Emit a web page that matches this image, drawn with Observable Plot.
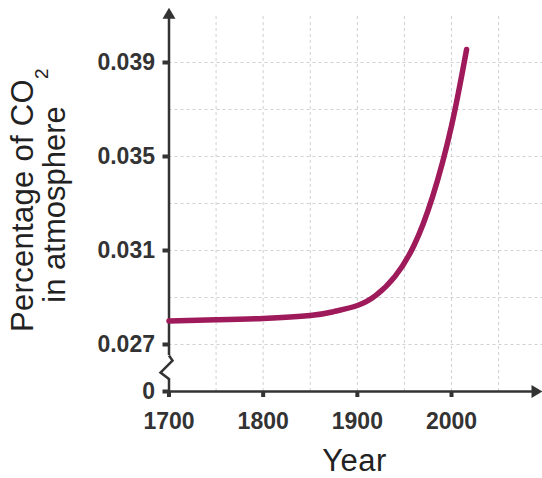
<!DOCTYPE html>
<html>
<head>
<meta charset="utf-8">
<script src="https://cdn.jsdelivr.net/npm/d3@7"></script>
<script src="https://cdn.jsdelivr.net/npm/@observablehq/plot@0.6"></script>
<style>
  body { margin: 0; background: #fff; }
  #chart svg { display: block; }
</style>
</head>
<body>
<div id="chart"></div>
<script>
// ---- data ----
const years = [1700, 1750, 1800, 1850, 1875, 1900, 1920, 1940, 1960, 1980, 2000, 2016];
const co2   = [0.02800, 0.02805, 0.02811, 0.02823, 0.02840, 0.02866, 0.02910, 0.02990, 0.03120, 0.03330, 0.03630, 0.03955];

const xTicks = [1700, 1800, 1900, 2000];
const gridYears = [1750, 1800, 1850, 1900, 1950, 2000, 2050];
const yTicks = [0.025, 0.027, 0.031, 0.035, 0.039];
const yTickLabels = ["0", "0.027", "0.031", "0.035", "0.039"];
const gridValues = [0.027, 0.029, 0.031, 0.033, 0.035, 0.037, 0.039];

const xLabel = "Year";
const yLabelMain = "Percentage of CO";
const yLabelSub = "2";
const yLabelLine2 = "in atmosphere";

// ---- scales / axis break ----
const xMin = 1700, xMax = 2086;
const yMin = 0.025, yMax = 0.0409, gridTop = 0.041;
const breakLow = 0.02555, breakHigh = 0.02653, breakMid = 0.02602;

const data = years.map((year, i) => ({year, value: co2[i]}));

const ink = "#333333";
const gridColor = "#cdd0d4";

const zigzag = {
  draw(ctx) {
    ctx.moveTo(0, -12);
    ctx.lineTo(3.5, -7);
    ctx.lineTo(-8.5, 5);
    ctx.lineTo(0, 11.5);
  }
};
const arrowHead = {
  draw(ctx) {
    ctx.moveTo(0, -10);
    ctx.lineTo(6.5, 1);
    ctx.lineTo(-6.5, 1);
    ctx.closePath();
  }
};

const chart = Plot.plot({
  width: 542,
  height: 478,
  marginLeft: 168.5,
  marginRight: 10,
  marginTop: 17.35,
  marginBottom: 87,
  style: {fontFamily: "'Liberation Sans', Arial, sans-serif", background: "#fff"},
  x: {domain: [xMin, xMax], axis: null},
  y: {domain: [yMin, yMax], axis: null},
  marks: [
    // grid
    Plot.ruleX(gridYears, {y1: yMin, y2: gridTop, stroke: gridColor, strokeWidth: 1, strokeDasharray: "3,3"}),
    Plot.ruleY(gridValues, {x1: xMin, x2: xMax, insetRight: -10, stroke: gridColor, strokeWidth: 1, strokeDasharray: "3,3"}),
    // axes
    Plot.ruleY([yMin], {x1: xMin, x2: xMax, stroke: ink, strokeWidth: 2.5}),
    Plot.ruleX([xMin], {y1: breakHigh, y2: yMax, stroke: ink, strokeWidth: 2.5}),
    Plot.ruleX([xMin], {y1: yMin, y2: breakLow, stroke: ink, strokeWidth: 2.5}),
    Plot.dot([xMin], {x: d => d, y: breakMid, symbol: zigzag, r: 5, fill: "none", stroke: ink, strokeWidth: 2.5}),
    Plot.dot([xMin], {x: d => d, y: yMax, symbol: arrowHead, r: 5, fill: ink, stroke: "none"}),
    Plot.dot([xMax], {x: d => d, y: yMin, symbol: arrowHead, rotate: 90, r: 5, fill: ink, stroke: "none"}),
    Plot.axisX(xTicks, {
      tickSize: 6, tickPadding: 15, strokeWidth: 4, stroke: ink, fill: ink,
      fontSize: 23, fontWeight: "bold", tickFormat: d => String(d), label: null
    }),
    Plot.axisY(yTicks, {
      tickSize: 6, tickPadding: 8, strokeWidth: 4, stroke: ink, fill: ink,
      fontSize: 23, fontWeight: "bold", tickFormat: d => yTickLabels[yTicks.indexOf(d)], label: null
    }),
    // data line
    Plot.line(data, {x: "year", y: "value", curve: "natural", stroke: "#9e1a5a", strokeWidth: 5.5, strokeLinecap: "round"})
  ]
});

document.getElementById("chart").appendChild(chart);

// axis titles
const svg = d3.select(chart);
const titleFont = "'Liberation Sans', Arial, sans-serif";
svg.append("text")
  .attr("x", 354.5).attr("y", 471)
  .attr("text-anchor", "middle")
  .attr("font-family", titleFont).attr("font-size", 31).attr("fill", "#222")
  .attr("letter-spacing", 0.5)
  .text(xLabel);

const t1 = svg.append("text")
  .attr("transform", "translate(33,332) rotate(-90)")
  .attr("text-anchor", "start")
  .attr("font-family", titleFont).attr("font-size", 31).attr("fill", "#222")
  .attr("letter-spacing", 0.3);
t1.append("tspan").text(yLabelMain);
t1.append("tspan").attr("dy", 15).attr("font-size", 19).text(yLabelSub);

svg.append("text")
  .attr("transform", "translate(65,204.5) rotate(-90)")
  .attr("text-anchor", "middle")
  .attr("font-family", titleFont).attr("font-size", 31).attr("fill", "#222")
  .text(yLabelLine2);
</script>
</body>
</html>
